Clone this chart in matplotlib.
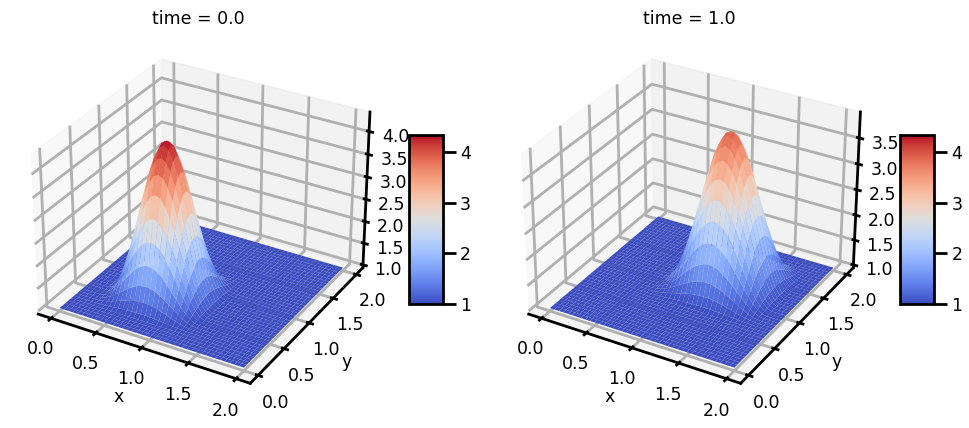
import numpy as np
import matplotlib
matplotlib.use("Agg")
import matplotlib.pyplot as plt

plt.rcParams.update({
    "font.size": 12.5, "axes.linewidth": 2, "xtick.major.width": 2, "ytick.major.width": 2,
    "grid.linewidth": 2, "grid.color": "#b0b0b0", "axes.titlesize": 12.5, "axes.labelsize": 12.5,
})

x_nodes = np.linspace(0, 2, 41)
y_nodes = np.linspace(0, 2, 41)

times = ["time = 0.0", "time = 1.0"]
peak_heights = [3.35, 2.93]
x_ticks = [0.0, 0.5, 1.0, 1.5, 2.0]
y_ticks = [0.0, 0.5, 1.0, 1.5, 2.0]
z_ticks = [[1.0, 1.5, 2.0, 2.5, 3.0, 3.5, 4.0], [1.0, 1.5, 2.0, 2.5, 3.0, 3.5]]
cbar_ticks = [1, 2, 3, 4]

# cross-sections of the hump through its peak (relative height), along x and along y
section_t0 = [0, 0, 0, 0, 0, .02, .08, .171, .292, .43, .571, .708, .825, .918, .98, 1, .98, .918, .825,
              .708, .571, .43, .292, .171, .08, .02, 0, 0, 0, 0, 0, 0, 0, 0, 0, 0, 0, 0, 0, 0, 0]
section_t1 = [0, 0, 0, 0, 0, 0, 0, 0, 0, 0, 0, 0, 0, 0, .017, .067, .146, .25, .371, .5, .629, .75, .854,
              .933, .983, 1, .983, .933, .854, .75, .629, .5, .371, .25, .146, .067, .017, 0, 0, 0, 0]
sections = [section_t0, section_t1]

fig = plt.figure(figsize=(9.7, 4.28), dpi=100)
X, Y = np.meshgrid(x_nodes, y_nodes)
lefts = [0.0101, 0.5157]
cax_lefts = [0.4215, 0.928]
for i in range(2):
    ax = fig.add_axes([lefts[i], 0.0485, 0.389, 0.882], projection="3d")
    Z = 1 + peak_heights[i] * np.outer(sections[i], sections[i])
    surf = ax.plot_surface(X, Y, Z, cmap="coolwarm", vmin=1, vmax=4.35, rstride=1, cstride=1,
                           linewidth=0, antialiased=True)
    ax.set_xlabel("x")
    ax.set_ylabel("y")
    ax.set_title(times[i], y=1.079)
    ax.set_xticks(x_ticks)
    ax.set_yticks(y_ticks)
    ax.set_zticks(z_ticks[i])
    cax = fig.add_axes([cax_lefts[i], 0.29, 0.035, 0.395])
    cb = fig.colorbar(surf, cax=cax, ticks=cbar_ticks)
    cb.ax.tick_params(length=9, width=2)
    cb.outline.set_linewidth(2)
fig.savefig("out.png", dpi=100)
